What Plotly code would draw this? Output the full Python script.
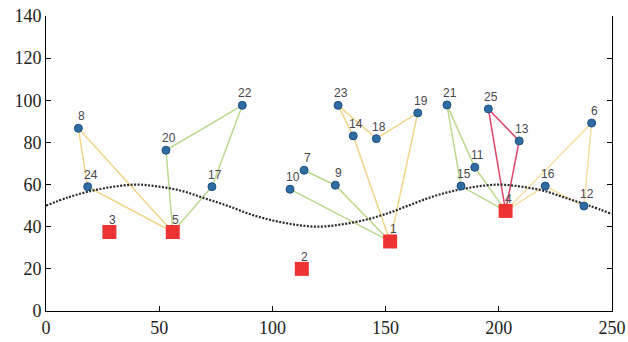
import plotly.graph_objects as go

# Depots (red squares)
depot_ids = ["1", "2", "3", "4", "5"]
depot_x = [152, 113, 28, 203, 56]
depot_y = [33, 20, 37.5, 47.5, 37.5]

# Customers (blue circles)
cust_ids = ["6", "7", "8", "9", "10", "11", "12", "13", "14", "15", "16", "17",
            "18", "19", "20", "21", "22", "23", "24", "25"]
cust_x = [241, 114, 14.3, 127.8, 107.8, 189.4, 237.6, 209, 135.7, 183.3, 220.5, 73.3,
          145.9, 164.2, 53, 177.1, 86.7, 129, 18.4, 195.4]
cust_y = [89.2, 66.8, 86.7, 59.7, 57.8, 68.2, 49.8, 80.7, 83.1, 59.3, 59.3, 59,
          81.8, 94, 76.3, 97.8, 97.6, 97.6, 59, 95.9]

# Routes (sequences of node ids) and their colours
routes = [
    (["5", "8", "24", "5"], "#f2d58a"),
    (["5", "20", "22", "17", "5"], "#bcd98f"),
    (["10", "1", "9", "7"], "#bcd98f"),
    (["1", "14", "23", "18", "19", "1"], "#f2d58a"),
    (["4", "15", "21", "11", "4"], "#bcd98f"),
    (["4", "25", "13", "4"], "#e2456a"),
    (["4", "16", "12", "6", "4"], "#f5dfa0"),
]

# Dotted reference curve
curve_x = [0, 10, 20, 30, 40, 50, 60, 70, 80, 90, 100, 110, 120, 130, 140, 150,
           160, 170, 180, 190, 200, 210, 220, 230, 240, 250]
curve_y = [50, 54, 57, 59, 60, 59, 57, 53.5, 50, 46, 43, 41, 40, 41, 43, 46,
           50, 54, 57, 59, 60, 59, 57, 53.5, 50, 46]

x_ticks = [0, 50, 100, 150, 200, 250]
y_ticks = [0, 20, 40, 60, 80, 100, 120, 140]

pos = {}
for i, n in enumerate(depot_ids):
    pos[n] = (depot_x[i], depot_y[i])
for i, n in enumerate(cust_ids):
    pos[n] = (cust_x[i], cust_y[i])

fig = go.Figure()

for seq, col in routes:
    fig.add_trace(go.Scatter(
        x=[pos[n][0] for n in seq], y=[pos[n][1] for n in seq],
        mode="lines", line=dict(color=col, width=1.5),
        hoverinfo="skip", showlegend=False))

fig.add_trace(go.Scatter(
    x=curve_x, y=curve_y, mode="lines",
    line=dict(color="#2a2a2a", width=2.2, dash="2px,1.5px", shape="spline"),
    showlegend=False, hoverinfo="skip"))

fig.add_trace(go.Scatter(
    x=cust_x, y=cust_y, mode="markers",
    marker=dict(symbol="circle", size=8, color="#2e6da4",
                line=dict(color="#1d4f80", width=1)),
    showlegend=False))

fig.add_trace(go.Scatter(
    x=depot_x, y=depot_y, mode="markers",
    marker=dict(symbol="square", size=14, color="#ee3333",
                line=dict(color="#e02020", width=0)),
    showlegend=False))

for n, (px, py) in pos.items():
    fig.add_annotation(x=px, y=py, text=n, showarrow=False,
                       xshift=3, yshift=12,
                       font=dict(family="Liberation Sans", size=12, color="#46464e"))

axis_common = dict(showline=True, linecolor="black", linewidth=1,
                   ticks="inside", ticklen=5, tickcolor="black",
                   showgrid=False, zeroline=False, automargin=False,
                   tickfont=dict(family="Liberation Serif", size=18, color="#222"))

fig.update_layout(
    width=628, height=342,
    margin=dict(l=46, r=16, t=16, b=31),
    paper_bgcolor="white", plot_bgcolor="white",
    xaxis=dict(range=[0, 250], tickvals=x_ticks, **axis_common),
    yaxis=dict(range=[0, 140], tickvals=y_ticks, mirror="ticks", **axis_common),
)

fig.write_html("out.html", config={"displayModeBar": False},
               post_script="document.body.style.margin='0';document.body.style.padding='0';")
